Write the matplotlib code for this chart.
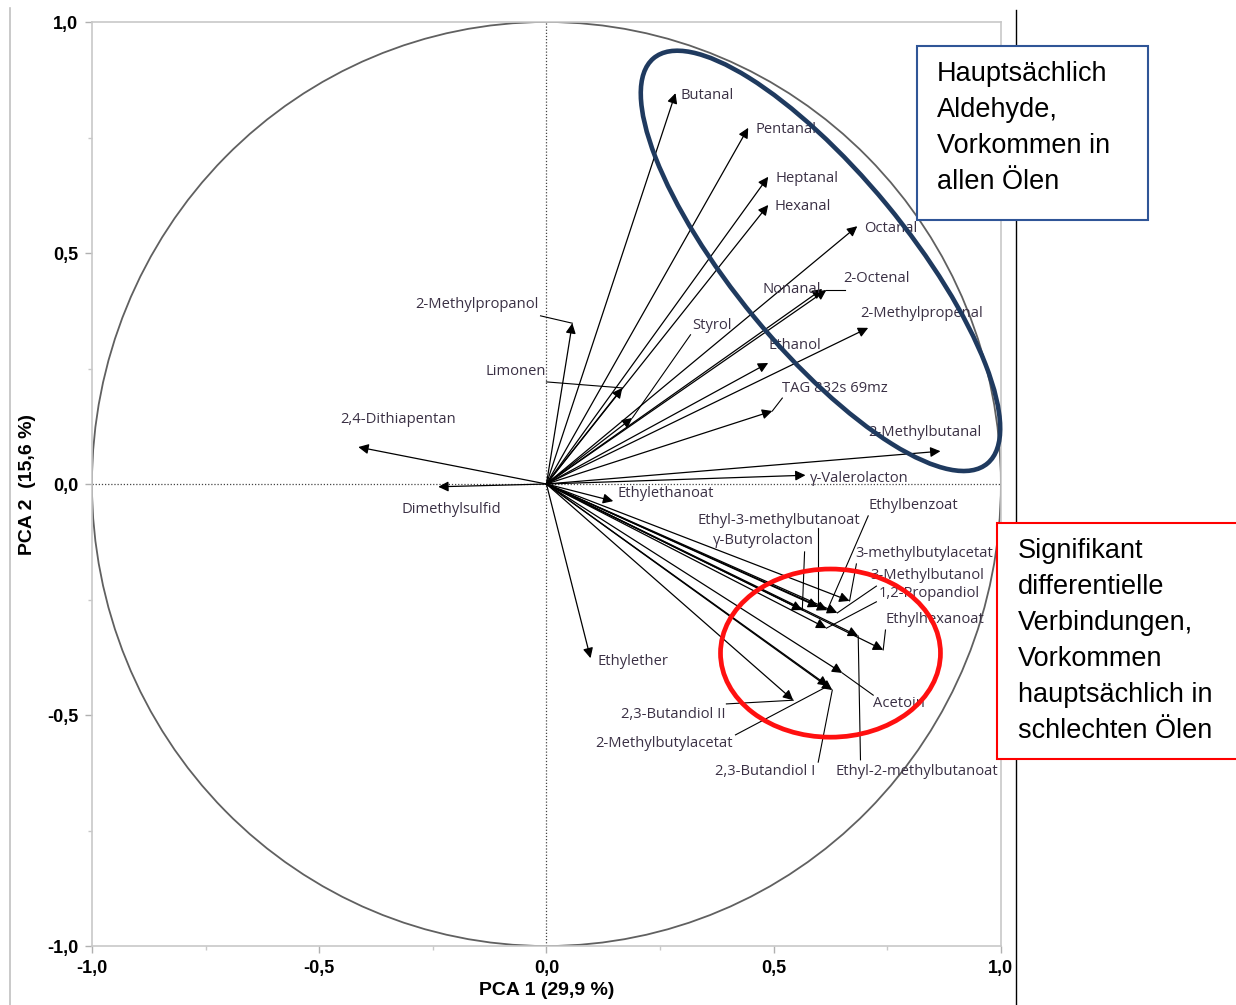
import numpy as np
import matplotlib.pyplot as plt
from matplotlib.patches import Circle, Ellipse, Rectangle
from matplotlib.lines import Line2D
from matplotlib.ticker import FixedLocator

# Ladungen der Verbindungen auf PCA 1 / PCA 2
names = [
    "Butanal", "Pentanal", "Heptanal", "Hexanal", "Octanal", "Nonanal",
    "2-Octenal", "2-Methylpropenal", "Styrol", "Ethanol", "TAG 832s 69mz",
    "2-Methylbutanal", "2-Methylpropanol", "Limonen", "2,4-Dithiapentan",
    "Dimethylsulfid", "γ-Valerolacton", "Ethylethanoat", "Ethylether",
    "Ethyl-3-methylbutanoat", "γ-Butyrolacton", "Ethylbenzoat",
    "3-methylbutylacetat", "3-Methylbutanol", "1,2-Propandiol",
    "Ethylhexanoat", "Ethyl-2-methylbutanoat", "Acetoin",
    "2,3-Butandiol II", "2-Methylbutylacetat", "2,3-Butandiol I",
]
pc1 = [0.284, 0.444, 0.488, 0.488, 0.684, 0.607, 0.616, 0.708, 0.189, 0.488,
       0.497, 0.867, 0.057, 0.167, -0.414, -0.238, 0.570, 0.147, 0.097,
       0.598, 0.563, 0.618, 0.667, 0.640, 0.616, 0.741, 0.686, 0.651,
       0.543, 0.620, 0.629]
pc2 = [0.846, 0.771, 0.665, 0.604, 0.558, 0.422, 0.420, 0.338, 0.143, 0.262,
       0.158, 0.071, 0.348, 0.208, 0.080, -0.006, 0.019, -0.037, -0.377,
       -0.266, -0.273, -0.273, -0.253, -0.279, -0.312, -0.359, -0.329,
       -0.409, -0.468, -0.437, -0.446]

# Beschriftung: (x, y, ha) und ggf. Startpunkt der Hilfslinie
label_pos = {
    "Butanal": (0.295, 0.842, "left", None),
    "Pentanal": (0.460, 0.767, "left", None),
    "Heptanal": (0.504, 0.661, "left", None),
    "Hexanal": (0.502, 0.600, "left", None),
    "Octanal": (0.700, 0.554, "left", None),
    "Nonanal": (0.475, 0.420, "left", None),
    "2-Octenal": (0.653, 0.444, "left", (0.658, 0.420)),
    "2-Methylpropenal": (0.691, 0.370, "left", None),
    "Styrol": (0.321, 0.344, "left", (0.317, 0.323)),
    "Ethanol": (0.488, 0.299, "left", None),
    "TAG 832s 69mz": (0.519, 0.206, "left", (0.519, 0.186)),
    "2-Methylbutanal": (0.708, 0.111, "left", None),
    "2-Methylpropanol": (-0.018, 0.388, "right", (-0.013, 0.364)),
    "Limonen": (0.0, 0.243, "right", (0.0, 0.221)),
    "2,4-Dithiapentan": (-0.453, 0.139, "left", None),
    "Dimethylsulfid": (-0.319, -0.056, "left", None),
    "γ-Valerolacton": (0.579, 0.011, "left", None),
    "Ethylethanoat": (0.156, -0.021, "left", None),
    "Ethylether": (0.112, -0.385, "left", None),
    "Ethyl-3-methylbutanoat": (0.332, -0.078, "left", (0.598, -0.095)),
    "γ-Butyrolacton": (0.367, -0.123, "left", (0.568, -0.147)),
    "Ethylbenzoat": (0.708, -0.047, "left", (0.708, -0.069)),
    "3-methylbutylacetat": (0.680, -0.151, "left", (0.682, -0.173)),
    "3-Methylbutanol": (0.713, -0.199, "left", (0.726, -0.221)),
    "1,2-Propandiol": (0.730, -0.238, "left", (0.726, -0.255)),
    "Ethylhexanoat": (0.746, -0.294, "left", (0.746, -0.316)),
    "Ethyl-2-methylbutanoat": (0.636, -0.623, "left", (0.691, -0.597)),
    "Acetoin": (0.719, -0.476, "left", (0.719, -0.457)),
    "2,3-Butandiol II": (0.165, -0.498, "left", (0.396, -0.476)),
    "2-Methylbutylacetat": (0.108, -0.562, "left", (0.416, -0.543)),
    "2,3-Butandiol I": (0.370, -0.623, "left", (0.598, -0.602)),
}

ticks = [-1.0, -0.5, 0.0, 0.5, 1.0]
tick_labels = ["-1,0", "-0,5", "0,0", "0,5", "1,0"]

box1_text = "Hauptsächlich\nAldehyde,\nVorkommen in\nallen Ölen"
box2_text = ("Signifikant\ndifferentielle\nVerbindungen,\nVorkommen\n"
             "hauptsächlich in\nschlechten Ölen")

fig = plt.figure(figsize=(12.36, 10.05), dpi=100)
ax = fig.add_axes([0.0744, 0.0587, 0.7354, 0.9194])
ax.set_xlim(-1, 1)
ax.set_ylim(-1, 1)

for sp in ax.spines.values():
    sp.set_color("#c8c8c8")
    sp.set_linewidth(1.2)

ax.set_xticks(ticks)
ax.set_yticks(ticks)
ax.set_xticklabels(tick_labels, fontfamily="Liberation Sans", fontweight="bold", fontsize=13)
ax.set_yticklabels(tick_labels, fontfamily="Liberation Sans", fontweight="bold", fontsize=13)
ax.xaxis.set_minor_locator(FixedLocator([-0.75, -0.25, 0.25, 0.75]))
ax.yaxis.set_minor_locator(FixedLocator([-0.75, -0.25, 0.25, 0.75]))
ax.tick_params(which="major", length=5, width=1, color="#b0b0b0", pad=5)
ax.tick_params(which="minor", length=3, width=1, color="#c8c8c8")

ax.set_xlabel("PCA 1 (29,9 %)", fontfamily="Liberation Sans", fontweight="bold",
              fontsize=14, labelpad=4)
ax.set_ylabel("PCA 2  (15,6 %)", fontfamily="Liberation Sans", fontweight="bold",
              fontsize=14, labelpad=8)

# Einheitskreis und Achsenkreuz
ax.add_patch(Circle((0, 0), 1.0, fill=False, ec="#606060", lw=1.3, zorder=1))
ax.axhline(0, color="#444444", ls=(0, (1, 1.5)), lw=0.9, zorder=1)
ax.axvline(0, color="#444444", ls=(0, (1, 1.5)), lw=0.9, zorder=1)

# Pfeile vom Ursprung
for x, y in zip(pc1, pc2):
    ax.annotate("", xy=(x, y), xytext=(0, 0),
                arrowprops=dict(arrowstyle="-|>", color="black", lw=0.9,
                                mutation_scale=15, shrinkA=0, shrinkB=0),
                zorder=3)

for name, x, y in zip(names, pc1, pc2):
    lx, ly, ha, lead = label_pos[name]
    ax.text(lx, ly, name, ha=ha, va="center", fontsize=10.6,
            fontfamily="Open Sans", color="#3a3044", zorder=4)
    if lead is not None:
        ax.plot([lead[0], x], [lead[1], y], color="black", lw=0.8, zorder=3)

# Markierung der Gruppen
ax.add_patch(Ellipse((0.603, 0.483), 1.144, 0.38, angle=-50, fill=False,
                     ec="#1f3a5f", lw=3.3, zorder=6, clip_on=False))
ax.add_patch(Ellipse((0.625, -0.366), 0.484, 0.364, angle=0, fill=False,
                     ec="#ff1010", lw=3.4, zorder=6, clip_on=False))

# Rahmenlinien
fig.add_artist(Line2D([1016 / 1236, 1016 / 1236], [0, 0.99], color="black", lw=1.0))
fig.add_artist(Line2D([10 / 1236, 10 / 1236], [0, 0.992], color="#c0c0c0", lw=1.2))

# Textkästen
fig.add_artist(Rectangle((917 / 1236, 1 - 220 / 1005), 231 / 1236, 174 / 1005,
                         transform=fig.transFigure, fc="white", ec="#2f5597", lw=1.5, zorder=7))
fig.text(937 / 1236, 1 - 61 / 1005, box1_text, ha="left", va="top", fontsize=19.5,
         fontfamily="Liberation Sans", linespacing=1.5, zorder=8)

fig.add_artist(Rectangle((997 / 1236, 1 - 759 / 1005), 260 / 1236, 236 / 1005,
                         transform=fig.transFigure, fc="white", ec="#ff0000", lw=1.5, zorder=7))
fig.text(1018 / 1236, 1 - 538 / 1005, box2_text, ha="left", va="top", fontsize=19.5,
         fontfamily="Liberation Sans", linespacing=1.5, zorder=8)

fig.savefig("out.png", dpi=100)
